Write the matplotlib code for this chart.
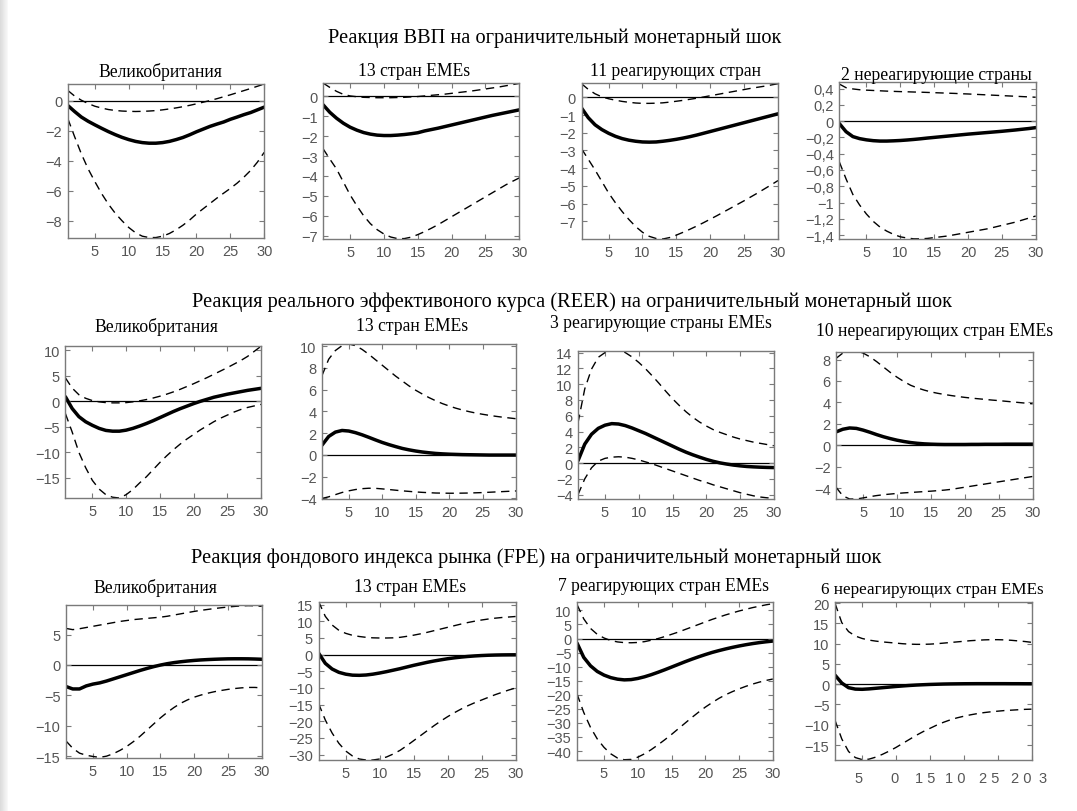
import numpy as np
import matplotlib.pyplot as plt

W, H = 1077, 812
horizon = list(range(1, 31))

# ВВП
gdp_uk_mid = [-0.33, -0.73, -1.1, -1.38, -1.62, -1.85, -2.07, -2.27, -2.45, -2.6, -2.72, -2.8, -2.84, -2.84, -2.8,
              -2.72, -2.6, -2.46, -2.28, -2.08, -1.9, -1.72, -1.57, -1.43, -1.25, -1.1, -0.94, -0.8, -0.62, -0.44]
gdp_uk_hi = [0.67, 0.3, 0.02, -0.2, -0.38, -0.5, -0.6, -0.66, -0.7, -0.72, -0.73, -0.72, -0.7, -0.67, -0.62,
             -0.56, -0.49, -0.41, -0.32, -0.22, -0.11, 0.0, 0.12, 0.25, 0.38, 0.52, 0.66, 0.8, 0.95, 1.1]
gdp_uk_lo = [-1.2, -2.4, -3.55, -4.55, -5.4, -6.2, -6.9, -7.5, -8.0, -8.45, -8.8, -9.03, -9.12, -9.12, -9.03,
             -8.85, -8.6, -8.3, -7.95, -7.55, -7.2, -6.85, -6.5, -6.17, -5.85, -5.5, -5.1, -4.65, -4.1, -3.45]

gdp_eme_mid = [-0.42, -0.8, -1.1, -1.35, -1.55, -1.7, -1.82, -1.9, -1.95, -1.97, -1.97, -1.95, -1.92, -1.88, -1.83,
               -1.74, -1.67, -1.6, -1.52, -1.44, -1.36, -1.28, -1.2, -1.12, -1.04, -0.96, -0.89, -0.82, -0.75, -0.68]
gdp_eme_hi = [0.67, 0.45, 0.25, 0.1, 0.02, -0.02, -0.05, -0.06, -0.07, -0.07, -0.07, -0.06, -0.05, -0.03, -0.01,
              0.02, 0.05, 0.08, 0.11, 0.15, 0.19, 0.23, 0.27, 0.32, 0.37, 0.42, 0.47, 0.53, 0.59, 0.65]
gdp_eme_lo = [-2.63, -3.15, -3.65, -4.3, -4.95, -5.5, -6.0, -6.4, -6.7, -6.92, -7.07, -7.15, -7.15, -7.08, -6.95,
              -6.8, -6.63, -6.45, -6.25, -6.05, -5.85, -5.65, -5.45, -5.25, -5.05, -4.85, -4.65, -4.45, -4.27, -4.1]

gdp_react_mid = [-0.6, -1.15, -1.55, -1.82, -2.03, -2.2, -2.33, -2.42, -2.48, -2.52, -2.53, -2.52, -2.48, -2.43, -2.37,
                 -2.3, -2.22, -2.13, -2.03, -1.93, -1.83, -1.73, -1.63, -1.53, -1.43, -1.33, -1.23, -1.13, -1.03, -0.93]
gdp_react_hi = [0.77, 0.45, 0.2, 0.03, -0.08, -0.16, -0.23, -0.28, -0.32, -0.34, -0.34, -0.33, -0.31, -0.27, -0.22,
                -0.17, -0.11, -0.05, 0.02, 0.09, 0.16, 0.23, 0.3, 0.37, 0.44, 0.51, 0.57, 0.63, 0.7, 0.77]
gdp_react_lo = [-2.9, -3.5, -4.1, -4.75, -5.4, -5.95, -6.45, -6.9, -7.3, -7.62, -7.85, -7.97, -8.0, -7.92, -7.78,
                -7.62, -7.45, -7.27, -7.08, -6.88, -6.68, -6.47, -6.26, -6.05, -5.84, -5.62, -5.4, -5.17, -4.94, -4.7]

gdp_nonreact_mid = [-0.03, -0.13, -0.19, -0.215, -0.23, -0.24, -0.245, -0.245, -0.242, -0.238, -0.232, -0.225,
                    -0.217, -0.208, -0.2, -0.192, -0.184, -0.176, -0.168, -0.16, -0.153, -0.146, -0.139, -0.132,
                    -0.125, -0.117, -0.109, -0.1, -0.091, -0.08]
gdp_nonreact_hi = [0.455, 0.41, 0.395, 0.385, 0.38, 0.376, 0.372, 0.368, 0.365, 0.362, 0.36, 0.357, 0.355, 0.352,
                   0.349, 0.346, 0.343, 0.34, 0.336, 0.333, 0.329, 0.325, 0.321, 0.317, 0.313, 0.309, 0.305, 0.301,
                   0.297, 0.293]
gdp_nonreact_lo = [-0.5, -0.71, -0.9, -1.03, -1.14, -1.23, -1.3, -1.35, -1.39, -1.42, -1.435, -1.445, -1.445, -1.44,
                   -1.43, -1.42, -1.41, -1.395, -1.38, -1.365, -1.35, -1.335, -1.32, -1.3, -1.28, -1.26, -1.24,
                   -1.215, -1.19, -1.165]

# REER
reer_uk_mid = [0.9, -1.4, -3.0, -4.0, -4.7, -5.3, -5.7, -5.85, -5.85, -5.65, -5.3, -4.85, -4.35, -3.8, -3.2,
               -2.6, -2.0, -1.45, -0.95, -0.45, 0.0, 0.4, 0.8, 1.1, 1.4, 1.65, 1.9, 2.15, 2.35, 2.55]
reer_uk_hi = [4.6, 2.6, 1.3, 0.6, 0.15, -0.1, -0.25, -0.3, -0.3, -0.25, -0.1, 0.1, 0.35, 0.65, 1.0,
              1.4, 1.85, 2.35, 2.9, 3.45, 4.05, 4.65, 5.3, 5.95, 6.6, 7.3, 8.0, 8.8, 9.8, 10.8]
reer_uk_lo = [-2.4, -6.0, -10.0, -13.0, -15.5, -17.2, -18.3, -18.8, -18.95, -18.3, -17.3, -16.0, -14.8, -13.4, -12.0,
              -10.7, -9.5, -8.4, -7.4, -6.5, -5.6, -4.8, -4.0, -3.3, -2.7, -2.1, -1.6, -1.2, -0.9, -0.6]

reer_eme_mid = [0.9, 1.7, 2.1, 2.25, 2.2, 2.05, 1.85, 1.62, 1.38, 1.15, 0.95, 0.77, 0.6, 0.47, 0.36,
                0.27, 0.2, 0.14, 0.1, 0.07, 0.05, 0.03, 0.02, 0.01, 0.0, -0.01, -0.01, -0.01, -0.01, -0.01]
reer_eme_hi = [7.3, 8.8, 9.6, 10.05, 10.2, 10.05, 9.7, 9.25, 8.75, 8.25, 7.75, 7.25, 6.8, 6.35, 5.95,
               5.6, 5.27, 4.98, 4.72, 4.5, 4.3, 4.13, 3.98, 3.85, 3.74, 3.64, 3.55, 3.47, 3.4, 3.33]
reer_eme_lo = [-4.0, -3.85, -3.65, -3.45, -3.3, -3.18, -3.1, -3.06, -3.07, -3.12, -3.18, -3.24, -3.3, -3.35, -3.4,
               -3.44, -3.47, -3.5, -3.51, -3.52, -3.52, -3.51, -3.5, -3.48, -3.46, -3.43, -3.4, -3.37, -3.34, -3.31]

reer_react_mid = [0.3, 2.4, 3.65, 4.4, 4.8, 5.0, 4.95, 4.75, 4.45, 4.1, 3.75, 3.35, 2.95, 2.55, 2.15,
                  1.75, 1.38, 1.05, 0.75, 0.47, 0.23, 0.03, -0.12, -0.25, -0.35, -0.43, -0.48, -0.52, -0.55, -0.57]
reer_react_hi = [5.1, 9.4, 11.9, 13.4, 14.0, 14.25, 14.3, 14.0, 13.45, 12.75, 11.95, 11.05, 10.1, 9.1, 8.15,
                 7.3, 6.5, 5.8, 5.2, 4.7, 4.25, 3.9, 3.6, 3.3, 3.05, 2.85, 2.65, 2.5, 2.35, 2.2]
reer_react_lo = [-4.0, -2.0, -0.6, 0.25, 0.6, 0.75, 0.8, 0.75, 0.6, 0.4, 0.15, -0.1, -0.4, -0.7, -1.0,
                 -1.3, -1.6, -1.9, -2.2, -2.45, -2.75, -3.0, -3.25, -3.5, -3.75, -3.95, -4.15, -4.3, -4.4, -4.45]

reer_nonreact_mid = [1.25, 1.5, 1.62, 1.58, 1.42, 1.22, 1.0, 0.8, 0.63, 0.48, 0.36, 0.26, 0.19, 0.14, 0.11,
                     0.09, 0.08, 0.08, 0.08, 0.08, 0.09, 0.09, 0.1, 0.1, 0.1, 0.11, 0.11, 0.11, 0.11, 0.11]
reer_nonreact_hi = [8.1, 8.6, 8.8, 8.8, 8.6, 8.25, 7.8, 7.3, 6.8, 6.35, 5.95, 5.6, 5.35, 5.15, 4.98,
                    4.85, 4.74, 4.64, 4.55, 4.47, 4.4, 4.34, 4.28, 4.22, 4.17, 4.11, 4.05, 3.99, 3.93, 3.87]
reer_nonreact_lo = [-3.9, -4.7, -5.0, -5.0, -4.9, -4.78, -4.68, -4.6, -4.54, -4.48, -4.43, -4.39, -4.35, -4.31, -4.27,
                    -4.22, -4.17, -4.1, -4.0, -3.9, -3.8, -3.7, -3.6, -3.5, -3.4, -3.3, -3.2, -3.1, -3.0, -2.9]

# FPE
fpe_uk_mid = [-3.55, -3.95, -3.95, -3.45, -3.15, -2.95, -2.65, -2.3, -1.95, -1.6, -1.25, -0.9, -0.58, -0.28, -0.02,
              0.2, 0.38, 0.52, 0.64, 0.74, 0.82, 0.88, 0.93, 0.97, 1.0, 1.01, 1.01, 1.0, 0.97, 0.93]
fpe_uk_hi = [6.0, 5.8, 5.95, 6.15, 6.35, 6.55, 6.75, 6.95, 7.15, 7.3, 7.45, 7.55, 7.65, 7.75, 7.85,
             8.0, 8.2, 8.4, 8.6, 8.8, 8.97, 9.12, 9.27, 9.4, 9.52, 9.62, 9.7, 9.75, 9.72, 9.62]
fpe_uk_lo = [-12.5, -13.7, -14.5, -14.85, -15.05, -15.2, -15.0, -14.6, -14.05, -13.4, -12.6, -11.7, -10.7, -9.7, -8.7,
             -7.8, -7.0, -6.3, -5.75, -5.3, -4.95, -4.65, -4.4, -4.2, -4.02, -3.88, -3.77, -3.7, -3.7, -3.78]

fpe_eme_mid = [0.5, -2.6, -4.3, -5.3, -5.85, -6.15, -6.2, -6.1, -5.85, -5.5, -5.1, -4.65, -4.2, -3.7, -3.2,
               -2.75, -2.3, -1.9, -1.55, -1.22, -0.95, -0.72, -0.53, -0.38, -0.26, -0.17, -0.11, -0.07, -0.05, -0.04]
fpe_eme_hi = [16.0, 11.5, 8.9, 7.3, 6.4, 5.8, 5.45, 5.2, 5.05, 5.0, 5.0, 5.05, 5.2, 5.5, 5.85,
              6.25, 6.7, 7.2, 7.7, 8.2, 8.7, 9.2, 9.65, 10.05, 10.4, 10.7, 10.95, 11.15, 11.3, 11.45]
fpe_eme_lo = [-14.6, -19.6, -23.5, -26.6, -28.9, -30.4, -31.3, -31.6, -31.6, -31.3, -30.7, -29.8, -28.7, -27.3, -25.8,
              -24.3, -22.8, -21.3, -19.9, -18.6, -17.4, -16.3, -15.3, -14.4, -13.6, -12.8, -12.0, -11.3, -10.6, -10.0]

fpe_react_mid = [-1.6, -6.7, -9.7, -11.7, -13.0, -13.9, -14.45, -14.7, -14.6, -14.2, -13.6, -12.85, -12.0, -11.1, -10.15,
                 -9.2, -8.25, -7.35, -6.5, -5.7, -4.95, -4.3, -3.7, -3.15, -2.65, -2.2, -1.8, -1.45, -1.15, -0.9]
fpe_react_hi = [12.1, 7.0, 3.6, 1.5, 0.2, -0.7, -1.2, -1.45, -1.5, -1.4, -1.1, -0.6, 0.0, 0.7, 1.5,
                2.3, 3.2, 4.1, 5.0, 5.9, 6.8, 7.6, 8.4, 9.1, 9.8, 10.4, 11.0, 11.5, 12.0, 12.4]
fpe_react_lo = [-19.7, -26.3, -31.6, -35.7, -38.7, -41.0, -42.5, -43.1, -43.0, -42.2, -41.0, -39.5, -37.8, -36.0, -34.1,
                -32.1, -30.1, -28.1, -26.2, -24.4, -22.8, -21.3, -20.0, -18.9, -17.9, -17.0, -16.2, -15.5, -14.9, -14.4]

fpe_nonreact_mid = [2.25, 0.3, -0.85, -1.2, -1.25, -1.15, -1.0, -0.85, -0.7, -0.55, -0.42, -0.3, -0.2, -0.12, -0.05,
                    0.0, 0.05, 0.08, 0.1, 0.12, 0.13, 0.14, 0.14, 0.14, 0.14, 0.14, 0.13, 0.13, 0.12, 0.12]
fpe_nonreact_hi = [20.0, 15.2, 13.0, 11.9, 11.3, 10.9, 10.65, 10.45, 10.3, 10.15, 10.0, 9.9, 9.85, 9.85, 9.9,
                   10.0, 10.15, 10.3, 10.45, 10.6, 10.75, 10.85, 10.95, 11.0, 11.0, 10.95, 10.85, 10.7, 10.55, 10.35]
fpe_nonreact_lo = [-8.9, -13.5, -16.6, -18.1, -18.6, -18.5, -18.0, -17.3, -16.5, -15.6, -14.6, -13.6, -12.6, -11.7,
                   -10.9, -10.1, -9.4, -8.8, -8.3, -7.9, -7.55, -7.25, -7.0, -6.8, -6.65, -6.5, -6.4, -6.3, -6.2, -6.15]

row_titles = [
    "Реакция ВВП на ограничительный монетарный шок",
    "Реакция реального эффективоного курса (REER) на ограничительный монетарный шок",
    "Реакция фондового индекса рынка (FPE) на ограничительный монетарный шок",
]

x_ticks = [5, 10, 15, 20, 25, 30]
# подписи оси X на последней панели набраны со сбоем
broken_x_pos = [4.4, 9.8, 14.25, 18.8, 23.8, 28.5, 31.6]
broken_x_labels = ["5", "0", "1 5", "1 0", "2 5", "2 0", "3"]

panels = [
    ("Великобритания", gdp_uk_mid, gdp_uk_hi, gdp_uk_lo, [0, -2, -4, -6, -8], (-9.15, 1.1)),
    ("13 стран EMEs", gdp_eme_mid, gdp_eme_hi, gdp_eme_lo, [0, -1, -2, -3, -4, -5, -6, -7], (-7.17, 0.67)),
    ("11 реагирующих стран", gdp_react_mid, gdp_react_hi, gdp_react_lo,
     [0, -1, -2, -3, -4, -5, -6, -7], (-8.0, 0.81)),
    ("2 нереагирующие страны", gdp_nonreact_mid, gdp_nonreact_hi, gdp_nonreact_lo,
     [0.4, 0.2, 0, -0.2, -0.4, -0.6, -0.8, -1, -1.2, -1.4], (-1.447, 0.48)),
    ("Великобритания", reer_uk_mid, reer_uk_hi, reer_uk_lo, [10, 5, 0, -5, -10, -15], (-18.95, 10.85)),
    ("13 стран EMEs", reer_eme_mid, reer_eme_hi, reer_eme_lo, [10, 8, 6, 4, 2, 0, -2, -4], (-4.05, 10.2)),
    ("3 реагирующие страны EMEs", reer_react_mid, reer_react_hi, reer_react_lo,
     [14, 12, 10, 8, 6, 4, 2, 0, -2, -4], (-4.55, 14.2)),
    ("10 нереагирующих стран EMEs", reer_nonreact_mid, reer_nonreact_hi, reer_nonreact_lo,
     [8, 6, 4, 2, 0, -2, -4], (-5.0, 8.7)),
    ("Великобритания", fpe_uk_mid, fpe_uk_hi, fpe_uk_lo, [5, 0, -5, -10, -15], (-15.3, 9.85)),
    ("13 стран EMEs", fpe_eme_mid, fpe_eme_hi, fpe_eme_lo,
     [15, 10, 5, 0, -5, -10, -15, -20, -25, -30], (-31.6, 15.8)),
    ("7 реагирующих стран EMEs", fpe_react_mid, fpe_react_hi, fpe_react_lo,
     [10, 5, 0, -5, -10, -15, -20, -25, -30, -35, -40], (-43.2, 13.0)),
    ("6 нереагирующих стран EMEs", fpe_nonreact_mid, fpe_nonreact_hi, fpe_nonreact_lo,
     [20, 15, 10, 5, 0, -5, -10, -15], (-18.7, 20.3)),
]

# рамки панелей в пикселях: левый, верхний, правый, нижний край
boxes = [
    (67.8, 85, 264.2, 239), (323, 84, 519.3, 240), (581.5, 84, 778, 240), (839.3, 83, 1035.7, 240),
    (65.4, 347, 261, 499), (322, 345, 516, 500), (578, 352, 773.8, 500), (836, 353, 1032.7, 500),
    (66, 606, 261.7, 759), (318.5, 603, 515.6, 761), (577, 603, 772.8, 761), (835, 603, 1031.5, 761),
]
# центры подзаголовков панелей
sub_pos = [
    (160, 72), (414, 72), (676, 72), (936, 75),
    (156, 327), (412, 327), (661, 323), (935, 332),
    (155, 588), (410, 588), (663, 587), (932, 590),
]
title_pos = [(555, 38), (572, 302), (536, 558)]

serif = ["Liberation Serif", "DejaVu Serif"]
sans = ["Liberation Sans", "DejaVu Sans"]
frame_col = "#7a7a7a"
label_col = "#555555"
tick_size = 10.5


def fmt(v):
    s = f"{v:g}".replace(".", ",")
    return s.replace("-", "\u2212")


fig = plt.figure(figsize=(W / 100, H / 100), dpi=100)

# серая полоска по левому краю страницы
edge = fig.add_axes([0, 0, 8 / W, 1])
edge.imshow(np.linspace(0.86, 0.97, 8)[None, :], cmap="gray", vmin=0, vmax=1,
            aspect="auto", extent=(0, 1, 0, 1))
edge.axis("off")

for (x, y), t in zip(title_pos, row_titles):
    fig.text(x / W, 1 - y / H, t, ha="center", va="center", fontsize=14.7, family=serif)

for i, (name, mid, hi, lo, yt, ylim) in enumerate(panels):
    l, t, r, b = boxes[i]
    ax = fig.add_axes([l / W, 1 - b / H, (r - l) / W, (b - t) / H])
    ax.axhline(0, color="black", lw=0.9, zorder=1)
    ax.plot(horizon, hi, color="black", lw=1.0, ls=(0, (6, 4)))
    ax.plot(horizon, lo, color="black", lw=1.0, ls=(0, (6, 4)))
    ax.plot(horizon, mid, color="black", lw=2.5, solid_capstyle="round")
    ax.set_xlim(1, 30)
    ax.set_ylim(*ylim)
    ax.set_yticks(yt)
    ax.set_yticklabels([fmt(v) for v in yt], family=sans)
    ax.set_xticks(x_ticks)
    if i == len(panels) - 1:
        ax.set_xticklabels([""] * len(x_ticks))
        for xp, s in zip(broken_x_pos, broken_x_labels):
            ax.text(xp, -0.07, s, transform=ax.get_xaxis_transform(), ha="center", va="top",
                    fontsize=tick_size, color=label_col, family=sans, clip_on=False)
    else:
        ax.set_xticklabels([str(v) for v in x_ticks], family=sans)
    ax.tick_params(direction="in", length=3.5, width=0.8, color=frame_col, top=True, right=True,
                   labelsize=tick_size, labelcolor=label_col, pad=4)
    for sp in ax.spines.values():
        sp.set_color(frame_col)
        sp.set_linewidth(1.0)
    sx, sy = sub_pos[i]
    size = 12.3 if i == len(panels) - 1 else 12.7
    fig.text(sx / W, 1 - sy / H, name, ha="center", va="center", fontsize=size, family=serif)

fig.savefig("out.png", dpi=100)
